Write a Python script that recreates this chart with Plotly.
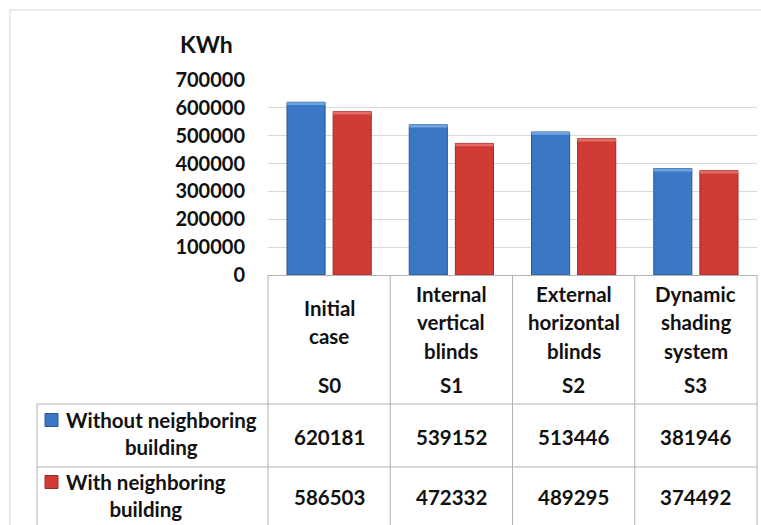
import plotly.graph_objects as go

# --- data -------------------------------------------------------------
categories = ["Initial<br>case", "Internal<br>vertical<br>blinds",
              "External<br>horizontal<br>blinds", "Dynamic<br>shading<br>system"]
scenario_codes = ["S0", "S1", "S2", "S3"]
series_names = ["Without neighboring<br>building", "With neighboring<br>building"]
without_neighbor = [620181, 539152, 513446, 381946]
with_neighbor = [586503, 472332, 489295, 374492]
y_ticks = [0, 100000, 200000, 300000, 400000, 500000, 600000, 700000]
unit_label = "KWh"

# --- styling ----------------------------------------------------------
FONT = "Lato, 'Open Sans', sans-serif"
BLUE, BLUE_EDGE, BLUE_TOP = "#3a77c5", "#2a5a97", "#6fa3e2"
RED, RED_EDGE, RED_TOP = "#d03b36", "#9c2a26", "#e66b66"
GRID = "#d9d9d9"
TABLE_LINE = "#b2b2b2"
CAP = 10000  # height of the light bevel at the top of each bar (data units)

W, H = 761, 525
PL, PR, PT, PB = 268, 757, 80, 275  # plot area in pixels


def px(x):
    return (x - PL) / (PR - PL)


def py(y):
    return (PB - y) / (PB - PT)


x_idx = list(range(len(categories)))
series = [
    (without_neighbor, BLUE, BLUE_EDGE, BLUE_TOP, "a"),
    (with_neighbor, RED, RED_EDGE, RED_TOP, "b"),
]

fig = go.Figure()
for vals, col, edge, top, grp in series:
    fig.add_trace(go.Bar(
        x=x_idx, y=vals, offsetgroup=grp,
        marker=dict(color=col, line=dict(color=edge, width=1)),
        showlegend=False, hoverinfo="y",
    ))
    # lighter bevel band along the top edge of each bar
    fig.add_trace(go.Bar(
        x=x_idx, y=[CAP] * len(vals), base=[v - CAP for v in vals], offsetgroup=grp,
        marker=dict(color=top, line=dict(width=0)),
        showlegend=False, hoverinfo="skip",
    ))

shapes = []
line = dict(color=TABLE_LINE, width=1)
col_w = (PR - PL) / len(categories)
# vertical table lines on category boundaries
for i in range(len(categories) + 1):
    xb = PL + i * col_w
    shapes.append(dict(type="line", xref="paper", yref="paper",
                       x0=px(xb), x1=px(xb), y0=py(PB), y1=py(H + 5), line=line))
# row separators and left edge of the series column
ROW_TOPS = [404, 467]
for yr in ROW_TOPS:
    shapes.append(dict(type="line", xref="paper", yref="paper",
                       x0=px(37), x1=px(PR), y0=py(yr), y1=py(yr), line=line))
shapes.append(dict(type="line", xref="paper", yref="paper",
                   x0=px(37), x1=px(37), y0=py(ROW_TOPS[0]), y1=py(H + 5), line=line))
# faint chart frame
shapes.append(dict(type="rect", xref="paper", yref="paper",
                   x0=px(10), x1=px(W + 20), y0=py(10), y1=py(H + 20),
                   line=dict(color="#e4e4e4", width=1.5)))
# legend keys
for (vals, col, edge, top, grp), yc in zip(series, [420, 482]):
    shapes.append(dict(type="rect", xref="paper", yref="paper",
                       x0=px(45), x1=px(58), y0=py(yc - 6.5), y1=py(yc + 6.5),
                       fillcolor=col, line=dict(color=edge, width=1)))

ann = []
tf = dict(family=FONT, size=20.5, color="#111111", weight="bold")
LINE_STEP = 28.5
for i, (cat, code) in enumerate(zip(categories, scenario_codes)):
    parts = cat.split("<br>")
    y0 = 322 - (len(parts) - 1) * LINE_STEP / 2
    for k, p in enumerate(parts):
        ann.append(dict(x=i, xref="x", y=py(y0 + k * LINE_STEP), yref="paper",
                        text=p, showarrow=False, font=tf,
                        xanchor="center", yanchor="middle"))
    ann.append(dict(x=i, xref="x", y=py(385), yref="paper", text=code,
                    showarrow=False, font=tf, xanchor="center", yanchor="middle"))

for (vals, *_), name, yv, yn in zip(series, series_names, [437, 497], [433, 495]):
    for i, v in enumerate(vals):
        ann.append(dict(x=i, xref="x", y=py(yv), yref="paper", text=str(v),
                        showarrow=False, font=tf, xanchor="center", yanchor="middle"))
    ann.append(dict(x=px(64), xref="paper", y=py(yn), yref="paper", text=name,
                    showarrow=False, font=tf, align="center",
                    xanchor="left", yanchor="middle"))

ann.append(dict(x=px(206), xref="paper", y=py(44), yref="paper", text=unit_label,
                showarrow=False, font=dict(family=FONT, size=23, color="#111111", weight="bold"),
                xanchor="center", yanchor="middle"))

fig.update_layout(
    width=W, height=H,
    margin=dict(l=PL, r=W - PR, t=PT, b=H - PB, autoexpand=False),
    paper_bgcolor="white", plot_bgcolor="white",
    barmode="group", bargap=0.245, bargroupgap=0.174,
    shapes=shapes, annotations=ann,
    xaxis=dict(type="linear", range=[-0.5, len(categories) - 0.5],
               showticklabels=False, showgrid=False, zeroline=False,
               showline=True, linecolor=TABLE_LINE, linewidth=1, ticks=""),
    yaxis=dict(range=[0, y_ticks[-1]], tickvals=y_ticks,
               ticktext=[str(t) for t in y_ticks],
               showgrid=True, gridcolor=GRID, gridwidth=1,
               zeroline=False, showline=False, ticks="",
               ticklabelstandoff=22,
               tickfont=dict(family=FONT, size=20, color="#111111", weight="bold")),
)

fig.write_html("out.html")
